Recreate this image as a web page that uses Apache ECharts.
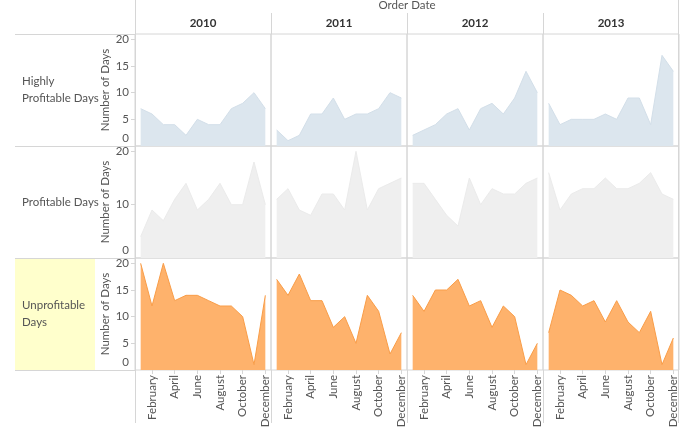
<!DOCTYPE html>
<html>
<head>
<meta charset="utf-8">
<script src="https://cdn.jsdelivr.net/npm/echarts@6/dist/echarts.min.js"></script>
<style>
html,body{margin:0;padding:0;background:#fff;}
#c{width:683px;height:437px;}
</style>
</head>
<body>
<div id="c"></div>
<script>
// ---- data ----
const months = ['January','February','March','April','May','June','July','August','September','October','November','December'];
const years = ['2010','2011','2012','2013'];
const rowLabels = ['Highly\nProfitable Days','Profitable Days','Unprofitable\nDays'];
const yTicksRow = [[0,5,10,15,20],[0,10,20],[0,5,10,15,20]];

const highly2010 = [7,6,4,4,2,5,4,4,7,8,10,7];
const highly2011 = [3,1,2,6,6,9,5,6,6,7,10,9];
const highly2012 = [2,3,4,6,7,3,7,8,6,9,14,10];
const highly2013 = [8,4,5,5,5,6,5,9,9,4,17,14];

const profitable2010 = [4,9,7,11,14,9,11,14,10,10,18,10];
const profitable2011 = [11,13,9,8,12,12,9,20,9,13,14,15];
const profitable2012 = [14,14,11,8,6,15,10,13,12,12,14,15];
const profitable2013 = [16,9,12,13,13,15,13,13,14,16,12,11];

const unprofitable2010 = [20,12,20,13,14,14,13,12,12,10,1,14];
const unprofitable2011 = [17,14,18,13,13,8,10,5,14,11,3,7];
const unprofitable2012 = [14,11,15,15,17,12,13,8,12,10,1,5];
const unprofitable2013 = [7,15,14,12,13,9,13,9,7,11,1,6];

const rowData = [
  [highly2010, highly2011, highly2012, highly2013],
  [profitable2010, profitable2011, profitable2012, profitable2013],
  [unprofitable2010, unprofitable2011, unprofitable2012, unprofitable2013]
];

// ---- styling / layout ----
const rowStyle = [
  {fill:'#dce6ee', line:'#d3dfe9'},
  {fill:'#efefef', line:'#ebebeb'},
  {fill:'#feb26c', line:'#f99d48'}
];
const colLeft = [135, 271, 407, 543];
const colW = 136;
const rowTop = [34, 146, 258];
const rowH = 112;
const gridLine = '#d6d6d6';
const FONT = 'Lato';

const grids = [], xAxes = [], yAxes = [], series = [];
let gi = 0;
for (let r = 0; r < 3; r++) {
  for (let c = 0; c < 4; c++) {
    grids.push({left: colLeft[c], top: rowTop[r], width: colW, height: rowH,
      show: true, borderColor: gridLine, borderWidth: 1, backgroundColor: 'transparent'});
    const bottomRow = r === 2;
    xAxes.push({
      type: 'category', gridIndex: gi, data: months, boundaryGap: true,
      axisLine: {show: false},
      axisTick: {show: bottomRow, interval: (i) => i % 2 === 1, alignWithLabel: true, length: 4,
        lineStyle: {color: gridLine}},
      axisLabel: {show: bottomRow, interval: (i) => i % 2 === 1, rotate: 90, margin: 5,
        color: '#555', fontSize: 11.5, fontFamily: FONT},
      splitLine: {show: false}
    });
    const firstCol = c === 0;
    yAxes.push({
      type: 'value', gridIndex: gi, min: 0, max: 21,
      name: firstCol ? 'Number of Days' : '', nameLocation: 'middle', nameGap: 24, nameRotate: 90,
      nameTextStyle: {color: '#555', fontSize: 11.5, fontFamily: FONT},
      axisLine: {show: false},
      axisTick: {show: firstCol, length: 4, customValues: yTicksRow[r], lineStyle: {color: gridLine}},
      axisLabel: {show: firstCol, customValues: yTicksRow[r], margin: 6, color: '#555', fontSize: 11.5, fontFamily: FONT,
        formatter: (v) => v === 0 ? '{z|0}' : String(v),
        rich: {z: {padding: [0,0,16,0], color: '#555', fontSize: 11.5, fontFamily: FONT}}},
      splitLine: {show: false}
    });
    series.push({
      type: 'line', xAxisIndex: gi, yAxisIndex: gi, data: rowData[r][c],
      symbol: 'none', silent: true,
      lineStyle: {color: rowStyle[r].line, width: 1},
      areaStyle: {color: rowStyle[r].fill, opacity: 1}
    });
    gi++;
  }
}

// header / row-header graphics
const graphics = [];
const L = (x1,y1,x2,y2) => ({type:'line', shape:{x1,y1,x2,y2}, style:{stroke:gridLine, lineWidth:1}, silent:true});
graphics.push({type:'rect', shape:{x:15, y:rowTop[2]+0.5, width:80, height:rowH-0.5}, style:{fill:'#ffffcc'}, silent:true});
graphics.push(L(135.5,0,135.5,423));
graphics.push(L(678.5,0,678.5,423));
for (let c = 1; c < 4; c++) {
  graphics.push(L(colLeft[c]+0.5,13,colLeft[c]+0.5,34));
  graphics.push(L(colLeft[c]+0.5,370,colLeft[c]+0.5,423));
}
for (let r = 0; r < 3; r++) graphics.push(L(15,rowTop[r]+0.5,135,rowTop[r]+0.5));
graphics.push(L(15,rowTop[2]+rowH+0.5,135,rowTop[2]+rowH+0.5));
graphics.push({type:'text', x:(colLeft[0]+colLeft[3]+colW)/2, y:5.5,
  style:{text:'Order Date', fill:'#555', font:'11.5px "'+FONT+'"', align:'center', verticalAlign:'middle'}});
for (let c = 0; c < 4; c++) {
  graphics.push({type:'text', x:colLeft[c]+colW/2, y:23,
    style:{text:years[c], fill:'#333', font:'bold 11.5px "'+FONT+'"', align:'center', verticalAlign:'middle'}});
}
for (let r = 0; r < 3; r++) {
  graphics.push({type:'text', x:22, y:rowTop[r]+rowH/2,
    style:{text:rowLabels[r], fill:'#555', font:'11.5px "'+FONT+'"', align:'left', verticalAlign:'middle', lineHeight:17}});
}

const chart = echarts.init(document.getElementById('c'));
chart.setOption({
  animation: false,
  backgroundColor: '#fff',
  grid: grids, xAxis: xAxes, yAxis: yAxes, series: series,
  graphic: graphics
});
</script>
</body>
</html>
